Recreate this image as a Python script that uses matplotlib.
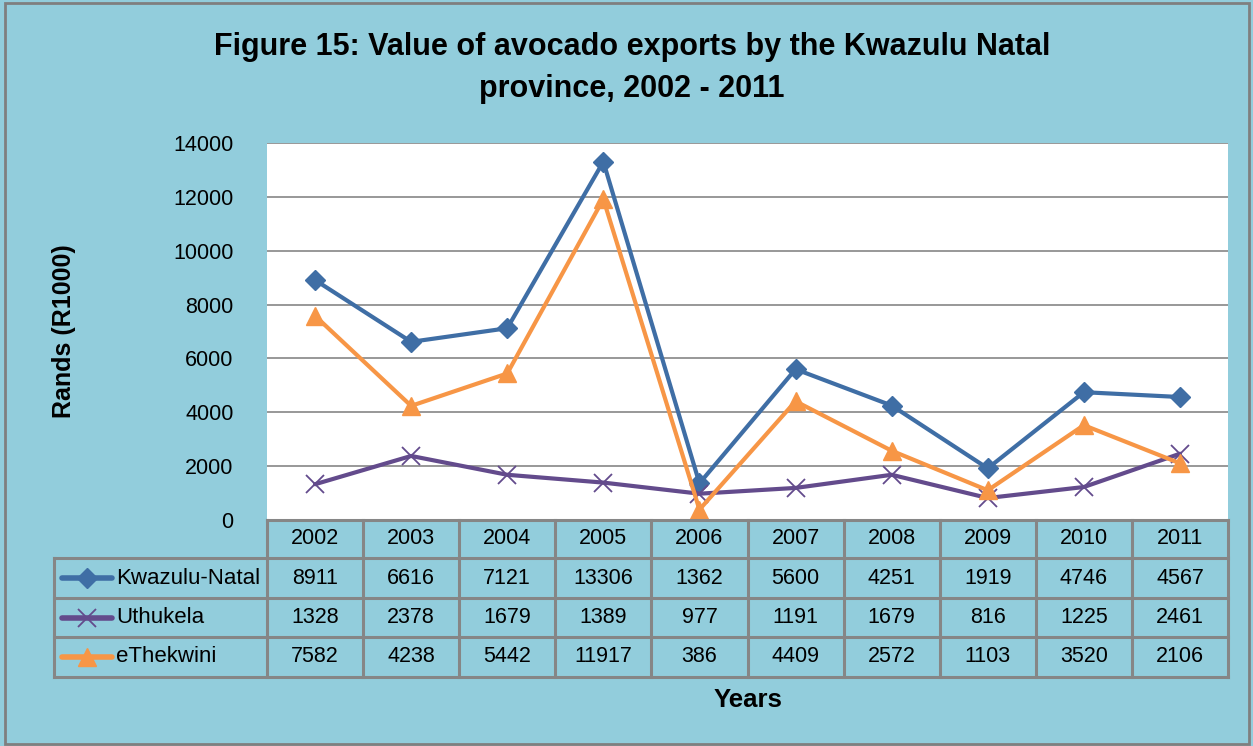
import numpy as np
import matplotlib.pyplot as plt
from matplotlib.lines import Line2D

plt.rcParams['font.family'] = ['Liberation Sans Narrow', 'Liberation Sans', 'DejaVu Sans']

years = ['2002', '2003', '2004', '2005', '2006', '2007', '2008', '2009', '2010', '2011']
kwazulu = [8911, 6616, 7121, 13306, 1362, 5600, 4251, 1919, 4746, 4567]
uthukela = [1328, 2378, 1679, 1389, 977, 1191, 1679, 816, 1225, 2461]
ethekwini = [7582, 4238, 5442, 11917, 386, 4409, 2572, 1103, 3520, 2106]

series = [
    ('Kwazulu-Natal', kwazulu, '#3F6EA5', 'D', 10),
    ('Uthukela', uthukela, '#634B8C', 'x', 13),
    ('eThekwini', ethekwini, '#F79646', '^', 13),
]

bg = '#92CDDC'
W, H = 1253, 746
fig = plt.figure(figsize=(W / 100, H / 100), dpi=100, facecolor=bg)

# figure border
fig.patches.append(plt.Rectangle((0.004, 0.003), 0.993, 0.993, transform=fig.transFigure,
                                 fill=False, ec='#7F7F7F', lw=2))

# plot area (pixel coords of the reference)
L, R, T, B = 267, 1228, 143, 520
ax = fig.add_axes([L / W, 1 - B / H, (R - L) / W, (B - T) / H])
ax.set_facecolor('white')
x = np.arange(len(years))
for name, vals, col, mk, ms in series:
    if mk == 'x':
        ax.plot(x, vals, color=col, lw=3, marker=mk, ms=ms, mew=1.3, solid_capstyle='round')
    else:
        ax.plot(x, vals, color=col, lw=3, marker=mk, ms=ms, solid_capstyle='round')
ax.set_xlim(-0.5, len(years) - 0.5)
ax.set_ylim(0, 14000)
ax.set_yticks(np.arange(0, 14001, 2000))
ax.set_xticks([])
ax.tick_params(axis='y', length=0, labelsize=15.5, pad=24)
ax.grid(axis='y', color='#868686', lw=1.2)
ax.set_axisbelow(True)
for s in ax.spines.values():
    s.set_visible(False)
ax.set_ylabel('Rands (R1000)', fontsize=18, fontweight='bold')
ax.yaxis.set_label_coords(-0.199, 0.5)

# data table below the plot
TL, TB = 54, 677
rows = [520, 558, 598, 637, TB]
tax = fig.add_axes([TL / W, 1 - TB / H, (R - TL) / W, (TB - rows[0]) / H])
tax.set_xlim(TL, R)
tax.set_ylim(TB, rows[0])
tax.axis('off')
colw = (R - L) / len(years)
cols = [L + i * colw for i in range(len(years) + 1)]
gc = '#868686'
# horizontal lines
tax.plot([L, R], [rows[0], rows[0]], color=gc, lw=2.2, clip_on=False)
for yy in rows[1:]:
    tax.plot([TL, R], [yy, yy], color=gc, lw=2.2, clip_on=False)
for xx in cols:
    tax.plot([xx, xx], [rows[0], TB], color=gc, lw=2.2, clip_on=False)
tax.plot([TL, TL], [rows[1], TB], color=gc, lw=2.2, clip_on=False)

fs = 15.5
for i, yr in enumerate(years):
    tax.text((cols[i] + cols[i + 1]) / 2, (rows[0] + rows[1]) / 2, yr,
             ha='center', va='center', fontsize=fs)
for r, (name, vals, col, mk, ms) in enumerate(series):
    yc = (rows[r + 1] + rows[r + 2]) / 2
    tax.add_line(Line2D([62, 112], [yc, yc], color=col, lw=4, solid_capstyle='round'))
    if mk == 'x':
        tax.plot([87], [yc], marker=mk, ms=ms, color=col, mew=1.3)
    else:
        tax.plot([87], [yc], marker=mk, ms=ms, color=col)
    tax.text(116, yc, name, ha='left', va='center', fontsize=16)
    for i, v in enumerate(vals):
        tax.text((cols[i] + cols[i + 1]) / 2, yc, str(v), ha='center', va='center', fontsize=fs)

fig.text((L + R) / 2 / W, 1 - 700 / H, 'Years', ha='center', va='center',
         fontsize=18.5, fontweight='bold')
fig.text(632 / W, 1 - 68 / H, 'Figure 15: Value of avocado exports by the Kwazulu Natal\nprovince, 2002 - 2011',
         ha='center', va='center', fontsize=22, fontweight='bold', linespacing=1.5)

fig.savefig('out.png', dpi=100, facecolor=bg)
